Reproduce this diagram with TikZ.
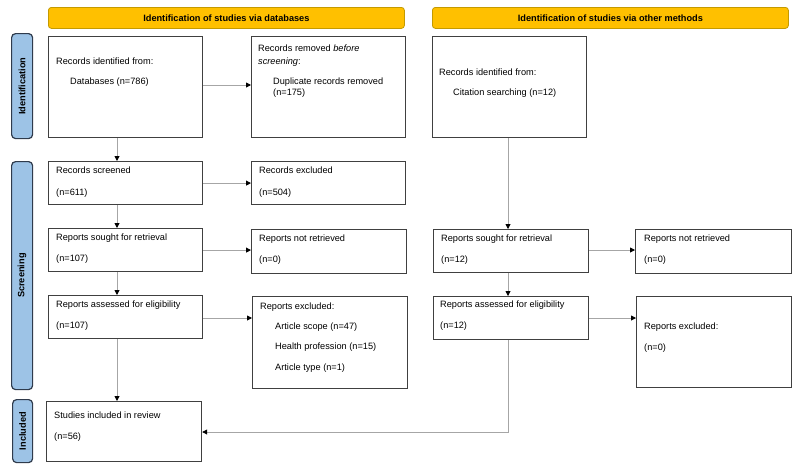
\documentclass[tikz,border=0pt]{standalone}
\usepackage{fontspec}
\setmainfont{Liberation Sans}
\usetikzlibrary{arrows.meta}
\definecolor{boxline}{HTML}{404040}
\definecolor{arrline}{HTML}{A6A6A6}
\definecolor{bannerfill}{HTML}{FFC000}
\definecolor{bannerline}{HTML}{C49A00}
\definecolor{sidefill}{HTML}{9DC3E6}
\definecolor{sideline}{HTML}{2F3B4C}
\begin{document}
\begin{tikzpicture}[x=1pt,y=-1pt,
  every node/.style={font=\fontsize{9.2}{11}\selectfont},
  flowbox/.style={draw=boxline,line width=1.2pt,fill=white,anchor=north west,inner sep=0pt},
  banner/.style={draw=bannerline,line width=0.8pt,fill=bannerfill,rounded corners=3pt,inner sep=0pt,font=\fontsize{9.2}{11}\selectfont\bfseries},
  sidebar/.style={draw=sideline,line width=1.2pt,fill=sidefill,rounded corners=4pt,inner sep=0pt},
  sidelabel/.style={rotate=90,font=\fontsize{9.2}{11}\selectfont\bfseries,inner sep=0pt},
  txt/.style={anchor=mid west,inner sep=0pt},
  arr/.style={draw=arrline,line width=0.9pt,-{Triangle[length=5pt,width=5pt,color=black]}},
  ln/.style={draw=arrline,line width=0.9pt}
]
\useasboundingbox (0,0) rectangle (800,469);

% banners
\node[banner,minimum width=356pt,minimum height=21pt,anchor=north west] (ban1) at (48,7) {};
\node[font=\fontsize{9.2}{11}\selectfont\bfseries] (ban1t) at (ban1.center) {Identification of studies via databases};
\node[banner,minimum width=356pt,minimum height=21pt,anchor=north west] (ban2) at (432,7) {};
\node[font=\fontsize{9.2}{11}\selectfont\bfseries] (ban2t) at (ban2.center) {Identification of studies via other methods};

% side bars
\node[sidebar,minimum width=21pt,minimum height=105pt,anchor=north west] (sid1) at (11,33) {};
\node[sidelabel] (sid1t) at (sid1.center) {Identification};
\node[sidebar,minimum width=21pt,minimum height=228pt,anchor=north west] (sid2) at (11,161) {};
\node[sidelabel] (sid2t) at (sid2.center) {Screening};
\node[sidebar,minimum width=20pt,minimum height=63pt,anchor=north west] (sid3) at (12,399) {};
\node[sidelabel] (sid3t) at (sid3.center) {Included};

% left column boxes
\node[flowbox,minimum width=154pt,minimum height=101pt] (idb) at (48,36) {};
\node[txt] (idb1) at (56,61.7) {Records identified from:};
\node[txt] (idb2) at (70,81.7) {Databases (n=786)};

\node[flowbox,minimum width=154pt,minimum height=101pt] (rem) at (251,36) {};
\node[txt] (rem1) at (258,49.3) {Records removed \textit{before}};
\node[txt] (rem2) at (258,62.3) {\textit{screening}:};
\node[txt] (rem3) at (273,81.7) {Duplicate records removed};
\node[txt] (rem4) at (273,93.3) {(n=175)};

\node[flowbox,minimum width=154pt,minimum height=43pt] (scr) at (48,161) {};
\node[txt] (scr1) at (56,170.7) {Records screened};
\node[txt] (scr2) at (56,192.7) {(n=611)};

\node[flowbox,minimum width=154pt,minimum height=43pt] (exc) at (251,161) {};
\node[txt] (exc1) at (259,170.7) {Records excluded};
\node[txt] (exc2) at (259,192.7) {(n=504)};

\node[flowbox,minimum width=154pt,minimum height=43pt] (sou) at (48,228) {};
\node[txt] (sou1) at (56,238.3) {Reports sought for retrieval};
\node[txt] (sou2) at (56,259.3) {(n=107)};

\node[flowbox,minimum width=155pt,minimum height=44pt] (nre) at (251,229) {};
\node[txt] (nre1) at (259,239.3) {Reports not retrieved};
\node[txt] (nre2) at (259,260) {(n=0)};

\node[flowbox,minimum width=154pt,minimum height=43pt] (ass) at (48,295) {};
\node[txt] (ass1) at (56,305) {Reports assessed for eligibility};
\node[txt] (ass2) at (56,326) {(n=107)};

\node[flowbox,minimum width=155pt,minimum height=92pt] (rex) at (252,296) {};
\node[txt] (rex1) at (260,306.7) {Reports excluded:};
\node[txt] (rex2) at (275,326.7) {Article scope (n=47)};
\node[txt] (rex3) at (275,347.3) {Health profession (n=15)};
\node[txt] (rex4) at (275,368.3) {Article type (n=1)};

\node[flowbox,minimum width=155pt,minimum height=60pt] (inc) at (46,401) {};
\node[txt] (inc1) at (54,416) {Studies included in review};
\node[txt] (inc2) at (54,437) {(n=56)};

% right column boxes
\node[flowbox,minimum width=154pt,minimum height=101pt] (cit) at (432,36) {};
\node[txt] (cit1) at (439,72.7) {Records identified from:};
\node[txt] (cit2) at (453,92.7) {Citation searching (n=12)};

\node[flowbox,minimum width=155pt,minimum height=43pt] (sou2b) at (433,229) {};
\node[txt] (sou2b1) at (441,239.3) {Reports sought for retrieval};
\node[txt] (sou2b2) at (441,260) {(n=12)};

\node[flowbox,minimum width=156pt,minimum height=44pt] (nre2b) at (635,229) {};
\node[txt] (nre2b1) at (644,239.3) {Reports not retrieved};
\node[txt] (nre2b2) at (644,260) {(n=0)};

\node[flowbox,minimum width=155pt,minimum height=43pt] (ass2b) at (433,296) {};
\node[txt] (ass2b1) at (440,305) {Reports assessed for eligibility};
\node[txt] (ass2b2) at (440,326) {(n=12)};

\node[flowbox,minimum width=155pt,minimum height=91pt] (rex2b) at (636,296) {};
\node[txt] (rex2b1) at (644,327) {Reports excluded:};
\node[txt] (rex2b2) at (644,348) {(n=0)};

% connectors
\coordinate (cl) at (117,0);
\coordinate (cr) at (508,0);
\draw[arr] (idb.south -| cl) -- (scr.north -| cl);
\draw[arr] (scr.south -| cl) -- (sou.north -| cl);
\draw[arr] (sou.south -| cl) -- (ass.north -| cl);
\draw[arr] (ass.south -| cl) -- (inc.north -| cl);

\draw[arr] (idb.east |- 0,85) -- (rem.west |- 0,85);
\draw[arr] (scr.east) -- (exc.west |- scr.east);
\draw[arr] (sou.east) -- (nre.west |- sou.east);
\draw[arr] (ass.east |- 0,318) -- (rex.west |- 0,318);

\draw[arr] (cit.south -| cr) -- (sou2b.north -| cr);
\draw[arr] (sou2b.south -| cr) -- (ass2b.north -| cr);
\draw[arr] (sou2b.east |- 0,250) -- (nre2b.west |- 0,250);
\draw[arr] (ass2b.east |- 0,318) -- (rex2b.west |- 0,318);
\draw[arr] (ass2b.south -| cr) -- (cr |- 0,432) -- (inc.east |- 0,432);
\end{tikzpicture}
\end{document}
